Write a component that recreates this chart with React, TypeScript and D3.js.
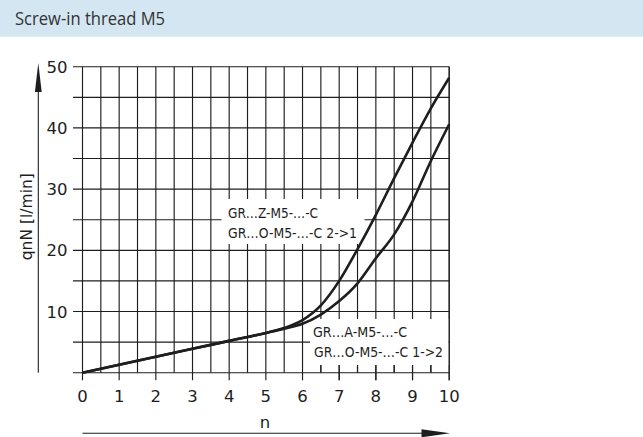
import React from "react";
import * as d3 from "d3";

const title = "Screw-in thread M5";
const nValues = [0, 1, 2, 3, 4, 5, 5.5, 6, 6.5, 7, 7.5, 8, 8.5, 9, 9.5, 10];
const flowZ = [0, 1.3, 2.6, 3.9, 5.2, 6.5, 7.3, 8.6, 11.0, 15.0, 20.2, 25.8, 31.8, 37.6, 43.2, 48.2];
const flowA = [0, 1.3, 2.6, 3.9, 5.2, 6.5, 7.2, 8.0, 9.5, 11.7, 14.6, 18.7, 22.6, 28.0, 34.6, 40.6];
const xTicks = [0, 1, 2, 3, 4, 5, 6, 7, 8, 9, 10];
const yTicks = [10, 20, 30, 40, 50];
const legendTop = ["GR…Z-M5-…-C", "GR…O-M5-…-C  2->1"];
const legendBottom = ["GR…A-M5-…-C", "GR…O-M5-…-C  1->2"];
const xLabel = "n";
const yLabel = "qnN [l/min]";

const W = 643;
const H = 437;
const FONT = "'DejaVu Sans', sans-serif";
const INK = "#1e1e1e";

export default function App() {
  const x = d3.scaleLinear().domain([0, 10]).range([82.5, 449.2]);
  const y = d3.scaleLinear().domain([0, 50]).range([372.7, 66.7]);
  const xGrid = d3.range(0, 10.01, 0.5);
  const yGrid = d3.range(0, 50.01, 5);
  const line = d3
    .line<number>()
    .x((_, i) => x(nValues[i]))
    .y((d) => y(d))
    .curve(d3.curveMonotoneX);

  const x0 = x(0);
  const x10 = x(10);
  const y0 = y(0);
  const y50 = y(50);

  return (
    <svg
      width={W}
      height={H}
      style={{ position: "absolute", left: 0, top: 0, background: "#fff" }}
    >
      <rect x={0} y={0} width={W} height={H} fill="#fff" />
      <rect x={0} y={0} width={W} height={36.7} fill="#d4e6f1" />
      <text
        x={15}
        y={24.5}
        fontFamily="'Open Sans', sans-serif"
        fontSize={18}
        fill="#333"
        textLength={150}
        lengthAdjust="spacingAndGlyphs"
      >
        {title}
      </text>

      <g stroke={INK} strokeWidth={1.15}>
        {yGrid.map((v) => (
          <line key={"h" + v} x1={73} x2={x10} y1={y(v)} y2={y(v)} />
        ))}
        {xGrid.map((n) => {
          const isInt = Math.abs(n - Math.round(n)) < 1e-6;
          return (
            <line
              key={"v" + n}
              x1={x(n)}
              x2={x(n)}
              y1={y50}
              y2={isInt ? y0 + 7.5 : y0}
            />
          );
        })}
      </g>

      <rect x={221.5} y={199} width={143} height={45} fill="#fff" />
      <rect x={310} y={319} width={138.5} height={46} fill="#fff" />
      <g stroke={INK} strokeWidth={1.15}>
        {xGrid
          .filter((n) => x(n) > 310 && x(n) < 448)
          .map((n) => {
            const isInt = Math.abs(n - Math.round(n)) < 1e-6;
            return (
              <line
                key={"t" + n}
                x1={x(n)}
                x2={x(n)}
                y1={365}
                y2={isInt ? y0 + 7.5 : y0}
              />
            );
          })}
        <line x1={x10} x2={x10} y1={y50} y2={y0 + 7.5} />
      </g>

      <g fontFamily={FONT} fontSize={14} fill={INK}>
        <text x={228} y={218.3} textLength={90} lengthAdjust="spacingAndGlyphs">
          {legendTop[0]}
        </text>
        <text x={228} y={238.3} textLength={129} lengthAdjust="spacingAndGlyphs">
          {legendTop[1]}
        </text>
        <text x={313} y={336.7} textLength={94} lengthAdjust="spacingAndGlyphs">
          {legendBottom[0]}
        </text>
        <text x={314} y={357.3} textLength={129} lengthAdjust="spacingAndGlyphs">
          {legendBottom[1]}
        </text>
      </g>

      <g fill="none" stroke={INK} strokeWidth={2.6} strokeLinejoin="round">
        <path d={line(flowZ) || ""} />
        <path d={line(flowA) || ""} />
      </g>

      <g fontFamily={FONT} fontSize={16.5} fill={INK}>
        {xTicks.map((n) => (
          <text key={"xl" + n} x={x(n)} y={401.7} textAnchor="middle">
            {n}
          </text>
        ))}
        {yTicks.map((v) => (
          <text key={"yl" + v} x={67.5} y={y(v) + 6} textAnchor="end">
            {v}
          </text>
        ))}
      </g>

      <line x1={38.3} x2={38.3} y1={y0} y2={80} stroke={INK} strokeWidth={1.1} />
      <path d="M38.3,63 L41.7,92 L34.9,92 Z" fill={INK} />
      <text
        transform="translate(31.5,216.7) rotate(-90)"
        textAnchor="middle"
        fontFamily={FONT}
        fontSize={15.5}
        fill={INK}
      >
        {yLabel}
      </text>

      <line x1={x0} x2={430} y1={433.3} y2={433.3} stroke={INK} strokeWidth={1.1} />
      <path d="M450,433.3 L421.5,429.3 L421.5,437.3 Z" fill={INK} />
      <text
        x={265}
        y={428}
        textAnchor="middle"
        fontFamily={FONT}
        fontSize={16.5}
        fill={INK}
      >
        {xLabel}
      </text>
    </svg>
  );
}
